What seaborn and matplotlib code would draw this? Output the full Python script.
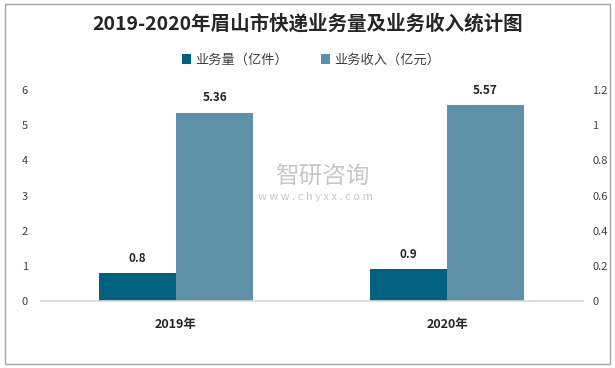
import matplotlib
matplotlib.use("Agg")
import matplotlib.pyplot as plt
import seaborn as sns
import pandas as pd
from matplotlib.patches import Rectangle, Patch

years = ["2019年", "2020年"]
volume = [0.8, 0.9]        # 业务量（亿件）
revenue = [5.36, 5.57]     # 业务收入（亿元）
series_names = ["业务量（亿件）", "业务收入（亿元）"]
left_ticks = [0, 1, 2, 3, 4, 5, 6]
right_ticks = [0, 0.2, 0.4, 0.6, 0.8, 1.0, 1.2]
right_tick_labels = ["0", "0.2", "0.4", "0.6", "0.8", "1", "1.2"]

colors = ["#02617f", "#5e91a8"]

sns.set_theme(style="white")
plt.rcParams["font.family"] = ["Noto Sans CJK SC", "DejaVu Sans"]

df = pd.DataFrame({
    "year": years * 2,
    "series": [series_names[0]] * len(years) + [series_names[1]] * len(years),
    "value": volume + revenue,
})

fig = plt.figure(figsize=(6.15, 3.68), dpi=100)
ax = fig.add_axes([40.5 / 615, 1 - 301 / 368, 542 / 615, 211 / 368])

sns.barplot(data=df, x="year", y="value", hue="series", hue_order=series_names,
            palette=colors, saturation=1, width=0.57, ax=ax, legend=False,
            edgecolor="none", linewidth=0)

ax.set_xlim(-0.5, 1.5)
ax.set_ylim(0, 6)
ax.set_yticks(left_ticks)
ax.set_yticklabels([str(t) for t in left_ticks])
ax.set_xlabel("")
ax.set_ylabel("")
for s in ["top", "right", "left"]:
    ax.spines[s].set_visible(False)
ax.spines["bottom"].set_color("#d9d9d9")
ax.spines["bottom"].set_linewidth(1.2)
ax.tick_params(axis="y", length=0, pad=9, labelsize=8, labelcolor="#404040")
ax.tick_params(axis="x", length=0, pad=12, labelsize=9, labelcolor="#262626")
for lbl in ax.get_xticklabels():
    lbl.set_fontweight("bold")

for cont in ax.containers:
    ax.bar_label(cont, labels=[f"{v:g}" for v in cont.datavalues], padding=6,
                 fontsize=8.5, fontweight="bold", color="#262626")

ax2 = ax.twinx()
ax2.set_ylim(0, 1.2)
ax2.set_yticks(right_ticks)
ax2.set_yticklabels(right_tick_labels)
for s in ["top", "right", "left", "bottom"]:
    ax2.spines[s].set_visible(False)
ax2.tick_params(axis="y", length=0, pad=7, labelsize=8, labelcolor="#404040")
ax2.grid(False)
ax.grid(False)

fig.text(0.5, 1 - 24 / 368, "2019-2020年眉山市快递业务量及业务收入统计图",
         ha="center", va="center", fontsize=14, fontweight="bold", color="#262626")

handles = [Patch(facecolor=c, edgecolor="none") for c in colors]
fig.legend(handles, series_names, loc="center", bbox_to_anchor=(311 / 615, 1 - 60 / 368),
           ncol=2, frameon=False, fontsize=9.5, handlelength=0.7, handleheight=0.7,
           handletextpad=0.3, columnspacing=2.5, labelcolor="#404040")

# watermark
fig.text(322 / 615, 1 - 177 / 368, "智研咨询", ha="center", va="center",
         fontsize=17, color="#bdbdbd", alpha=0.85)
fig.text(315 / 615, 1 - 197 / 368, "w w w . c h y x x . c o m", ha="center", va="center",
         fontsize=8, color="#bdbdbd", alpha=0.85)

fig.patches.append(Rectangle((5 / 615, 4 / 368), 605 / 615, 360 / 368,
                             transform=fig.transFigure, fill=False,
                             edgecolor="#a6a6a6", linewidth=1))

fig.savefig("out.png", dpi=100)
